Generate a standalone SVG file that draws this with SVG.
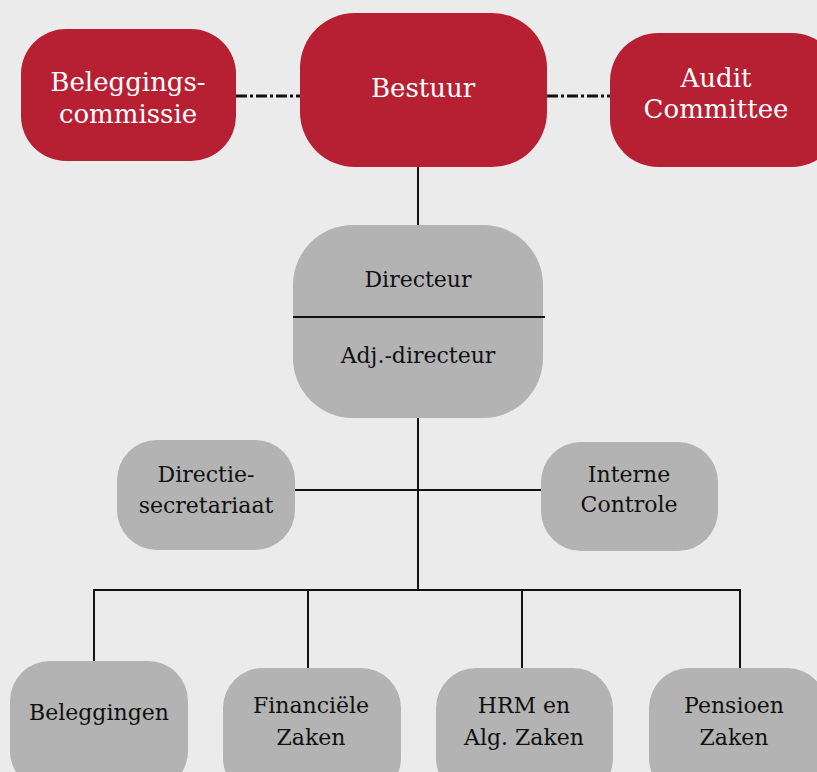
<svg xmlns="http://www.w3.org/2000/svg" width="817" height="772" viewBox="0 0 817 772">
<style>
.red{fill:#b72033}
.gray{fill:#b3b3b3}
.wt{fill:#ffffff;font-family:"DejaVu Serif","Liberation Serif",serif;font-size:26px;text-anchor:middle}
.bt{fill:#111111;font-family:"DejaVu Serif","Liberation Serif",serif;font-size:22px;text-anchor:middle}
.ln{stroke:#111111;stroke-width:2;fill:none}
.dash{stroke:#111111;stroke-width:3;fill:none;stroke-dasharray:11 3 3 3}
</style>
<rect width="817" height="772" fill="#ebebeb"/>
<g id="connectors">
<line class="dash" x1="236" y1="96" x2="300" y2="96"/>
<line class="dash" x1="547" y1="96" x2="610" y2="96"/>
<line class="ln" x1="418" y1="167" x2="418" y2="225"/>
<line class="ln" x1="418" y1="418" x2="418" y2="591"/>
<line class="ln" x1="295" y1="490" x2="541" y2="490"/>
<line class="ln" x1="93" y1="590" x2="741" y2="590"/>
<line class="ln" x1="94" y1="590" x2="94" y2="662"/>
<line class="ln" x1="308" y1="590" x2="308" y2="668"/>
<line class="ln" x1="522" y1="590" x2="522" y2="668"/>
<line class="ln" x1="740" y1="590" x2="740" y2="668"/>
</g>
<g id="beleggingscommissie">
<rect class="red" x="21" y="29" width="215" height="132" rx="45" ry="45"/>
<text class="wt" x="128" y="91">Beleggings-</text>
<text class="wt" x="128" y="123">commissie</text>
</g>
<g id="bestuur">
<rect class="red" x="300" y="13" width="247" height="154" rx="55" ry="55"/>
<text class="wt" x="423" y="97">Bestuur</text>
</g>
<g id="audit">
<rect class="red" x="610" y="33" width="230" height="134" rx="48" ry="48"/>
<text class="wt" x="716" y="87">Audit</text>
<text class="wt" x="716" y="118">Committee</text>
</g>
<g id="directeur">
<rect class="gray" x="293" y="225" width="250" height="193" rx="60" ry="60"/>
<line class="ln" x1="293" y1="317" x2="545" y2="317"/>
<text class="bt" x="418" y="287">Directeur</text>
<text class="bt" x="418" y="363">Adj.-directeur</text>
</g>
<g id="directiesecretariaat">
<rect class="gray" x="117" y="440" width="178" height="110" rx="40" ry="40"/>
<text class="bt" x="206" y="482">Directie-</text>
<text class="bt" x="206" y="513">secretariaat</text>
</g>
<g id="internecontrole">
<rect class="gray" x="541" y="442" width="177" height="109" rx="40" ry="40"/>
<text class="bt" x="629" y="482">Interne</text>
<text class="bt" x="629" y="512">Controle</text>
</g>
<g id="beleggingen">
<rect class="gray" x="10" y="661" width="178" height="130" rx="40" ry="40"/>
<text class="bt" x="99" y="720">Beleggingen</text>
</g>
<g id="financiele">
<rect class="gray" x="223" y="668" width="178" height="130" rx="40" ry="40"/>
<text class="bt" x="311" y="713">Financiële</text>
<text class="bt" x="311" y="745">Zaken</text>
</g>
<g id="hrm">
<rect class="gray" x="436" y="668" width="177" height="130" rx="40" ry="40"/>
<text class="bt" x="524" y="713">HRM en</text>
<text class="bt" x="524" y="745">Alg. Zaken</text>
</g>
<g id="pensioen">
<rect class="gray" x="649" y="668" width="178" height="130" rx="40" ry="40"/>
<text class="bt" x="734" y="713">Pensioen</text>
<text class="bt" x="734" y="745">Zaken</text>
</g>
</svg>
